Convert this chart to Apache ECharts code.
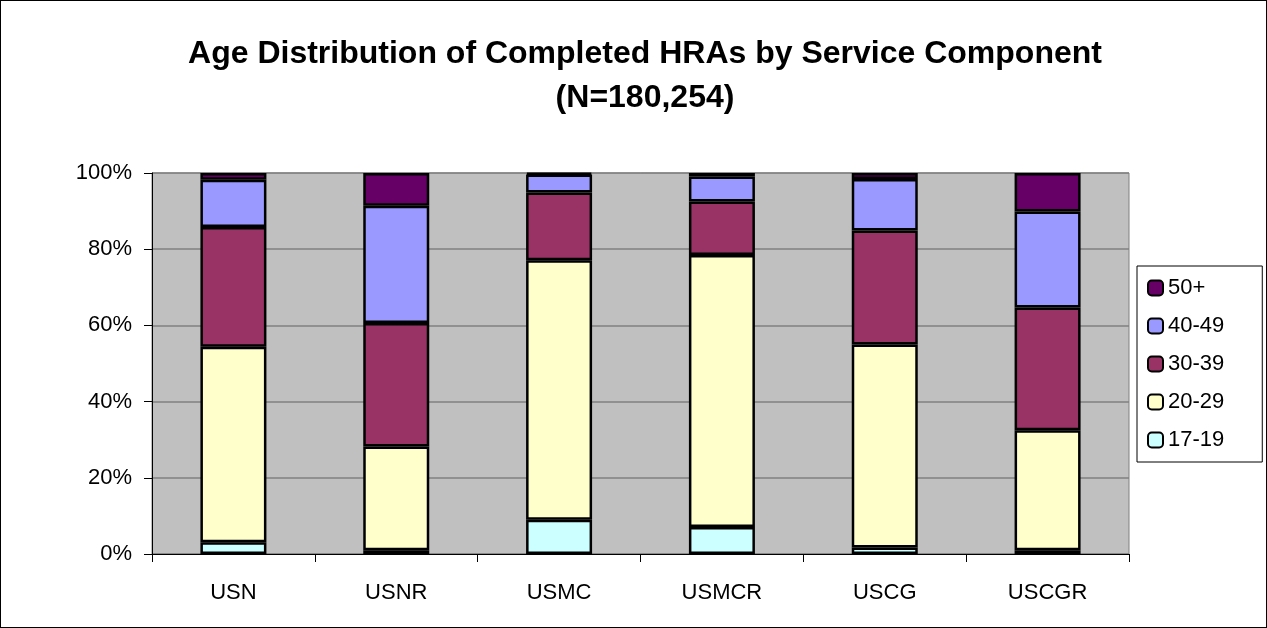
<!DOCTYPE html>
<html>
<head>
<meta charset="utf-8">
<script src="https://cdn.jsdelivr.net/npm/echarts@6/dist/echarts.min.js"></script>
<style>
	html, body { margin: 0; padding: 0; background: #fff; }
	#chart { width: 1267px; height: 628px; box-sizing: border-box; border: 1px solid #000; }
</style>
</head>
<body>
<div id="chart"></div>
<script>
	// categories and stacked shares (percent)
	const categories = ['USN', 'USNR', 'USMC', 'USMCR', 'USCG', 'USCGR']
	const age17to19 = [3.1, 1.0, 9.0, 7.1, 1.7, 1.0]
	const age20to29 = [51.3, 27.2, 68.1, 71.4, 53.3, 31.5]
	const age30to39 = [31.4, 32.4, 17.8, 14.0, 29.9, 32.2]
	const age40to49 = [12.4, 30.8, 4.7, 6.6, 13.5, 25.2]
	const age50plus = [1.8, 8.6, 0.4, 0.9, 1.6, 10.1]
	const yTicks = [0, 20, 40, 60, 80, 100]

	const font = 'Liberation Sans, Arial, sans-serif'
	const seriesDefs = [
		{ name: '17-19', data: age17to19, color: '#CCFFFF' },
		{ name: '20-29', data: age20to29, color: '#FFFFCC' },
		{ name: '30-39', data: age30to39, color: '#993366' },
		{ name: '40-49', data: age40to49, color: '#9999FF' },
		{ name: '50+', data: age50plus, color: '#660066' }
	]

	const myChart = echarts.init(document.getElementById('chart'))
	const option = {
		animation: false,
		title: {
			text: 'Age Distribution of Completed HRAs by Service Component\n(N=180,254)',
			left: 639,
			top: 26,
			textAlign: 'center',
			textStyle: {
				fontFamily: font,
				fontSize: 32,
				fontWeight: 'bold',
				color: '#000',
				lineHeight: 44
			}
		},
		legend: {
			orient: 'vertical',
			left: 1136,
			top: 265,
			data: ['50+', '40-49', '30-39', '20-29', '17-19'],
			itemWidth: 15,
			itemHeight: 15,
			itemGap: 16,
			padding: [11, 38, 11, 10],
			borderColor: '#000',
			borderWidth: 1,
			backgroundColor: '#fff',
			textStyle: { fontFamily: font, fontSize: 22, color: '#000' }
		},
		grid: {
			left: 151,
			top: 172,
			right: 137,
			bottom: 73,
			show: true,
			backgroundColor: '#C0C0C0',
			borderColor: '#808080',
			borderWidth: 1
		},
		xAxis: {
			type: 'category',
			data: categories,
			axisLine: { lineStyle: { color: '#000', width: 1 } },
			axisTick: { show: true, length: 8, lineStyle: { color: '#000' } },
			axisLabel: { fontFamily: font, fontSize: 22, color: '#000', margin: 28 }
		},
		yAxis: {
			type: 'value',
			min: yTicks[0],
			max: yTicks[yTicks.length - 1],
			interval: 20,
			axisLine: { show: true, lineStyle: { color: '#000', width: 1 } },
			axisTick: { show: true, length: 8, lineStyle: { color: '#000' } },
			axisLabel: {
				fontFamily: font,
				fontSize: 22,
				color: '#000',
				margin: 20,
				formatter: '{value}%'
			},
			splitLine: { lineStyle: { color: '#808080', width: 1.5 } }
		},
		series: seriesDefs.map(s => ({
			name: s.name,
			type: 'bar',
			stack: 'total',
			barWidth: 66,
			data: s.data,
			itemStyle: { color: s.color, borderColor: '#000', borderWidth: 2.5 }
		}))
	}
	myChart.setOption(option)
</script>
</body>
</html>
